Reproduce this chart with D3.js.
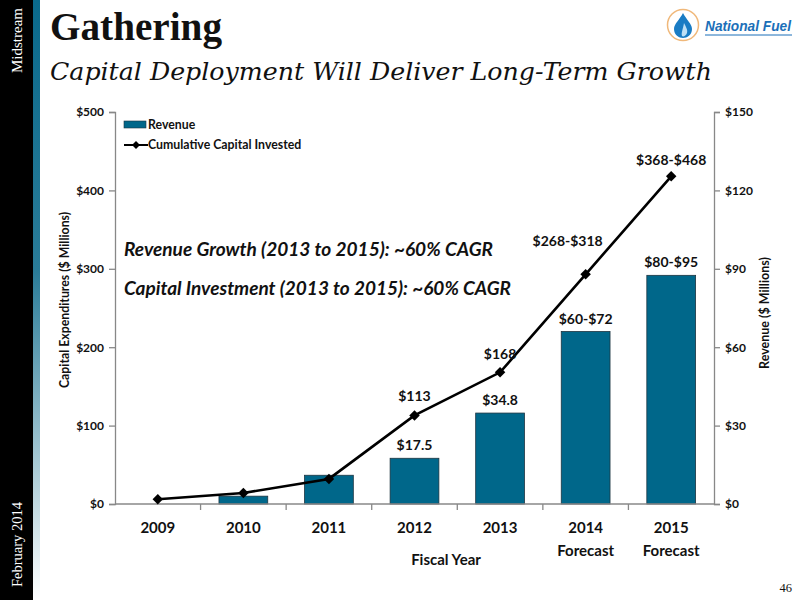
<!DOCTYPE html>
<html>
<head>
<meta charset="utf-8">
<script src="https://cdn.jsdelivr.net/npm/d3@7"></script>
<style>
  body { margin: 0; background: #fff; }
  svg { display: block; }
  .tick-lab { font-family: Lato, 'Open Sans', sans-serif; font-weight: bold; fill: #111; }
</style>
</head>
<body>
<svg id="chart" width="800" height="600"></svg>
<script>
// Chart data
const years = ['2009', '2010', '2011', '2012', '2013', '2014', '2015'];
const yearSub = ['', '', '', '', '', 'Forecast', 'Forecast'];
const revenue = [null, 3, 11, 17.5, 34.8, 66, 87.5];            // $ millions, right axis
const revenueLabels = ['', '', '', '$17.5', '$34.8', '$60-$72', '$80-$95'];
const capital = [6, 14, 32, 113, 168, 293, 418];                 // cumulative $ millions, left axis
const capitalLabels = ['', '', '', '$113', '$168', '$268-$318', '$368-$468'];
const leftTicks = [0, 100, 200, 300, 400, 500];
const rightTicks = [0, 30, 60, 90, 120, 150];

const svg = d3.select('#chart');
const barColor = '#00678a';

// Sidebar
const grad = svg.append('defs').append('linearGradient')
    .attr('id', 'side').attr('x1', 0).attr('y1', 0).attr('x2', 0).attr('y2', 1);
grad.append('stop').attr('offset', '0%').attr('stop-color', '#0a6a8c');
grad.append('stop').attr('offset', '45%').attr('stop-color', '#2a7c98');
grad.append('stop').attr('offset', '100%').attr('stop-color', '#ffffff');
svg.append('rect').attr('x', 0).attr('y', 0).attr('width', 33).attr('height', 600).attr('fill', '#000');
svg.append('rect').attr('x', 33).attr('y', 0).attr('width', 7).attr('height', 600).attr('fill', 'url(#side)');
svg.append('text')
    .attr('transform', 'translate(22,73) rotate(-90)')
    .style('font-family', 'Liberation Serif, serif').style('font-size', '15px')
    .attr('fill', '#fff').text('Midstream');
svg.append('text')
    .attr('transform', 'translate(22,587) rotate(-90)')
    .style('font-family', 'Liberation Serif, serif').style('font-size', '14.5px')
    .attr('fill', '#fff').text('February 2014');

// Titles
svg.append('text')
    .attr('x', 50).attr('y', 40)
    .style('font-family', 'Liberation Serif, serif').style('font-weight', 'bold').style('font-size', '40px')
    .attr('textLength', 172).attr('lengthAdjust', 'spacingAndGlyphs')
    .attr('fill', '#111').text('Gathering');
svg.append('text')
    .attr('x', 50).attr('y', 80)
    .style('font-family', 'DejaVu Serif, serif').style('font-style', 'italic').style('font-size', '25px')
    .attr('textLength', 662).attr('lengthAdjust', 'spacingAndGlyphs')
    .attr('fill', '#111').text('Capital Deployment Will Deliver Long-Term Growth');

// Logo
const logo = svg.append('g').attr('transform', 'translate(683,25)');
logo.append('circle').attr('r', 15.5).attr('fill', '#fff').attr('stroke', '#f0b87a').attr('stroke-width', 1.5);
logo.append('path')
    .attr('d', 'M0,-12 C3,-6 9,-1 9,4 C9,10 4,13 0,13 C-4,13 -9,10 -9,4 C-9,-1 -3,-6 0,-12 Z')
    .attr('fill', '#1a7cc4');
logo.append('path')
    .attr('d', 'M1,-2 C3,2 5,5 4,8 C3,11 0,12 -1,11 C-2,8 0,4 1,-2 Z')
    .attr('fill', '#bfe0f5');
svg.append('text')
    .attr('x', 705).attr('y', 31)
    .style('font-family', 'Liberation Sans, sans-serif').style('font-weight', 'bold').style('font-style', 'italic')
    .style('font-size', '15px').attr('fill', '#1b6fb8')
    .attr('textLength', 86).attr('lengthAdjust', 'spacingAndGlyphs')
    .text('National Fuel');
svg.append('line').attr('x1', 705).attr('x2', 792).attr('y1', 35).attr('y2', 35)
    .attr('stroke', '#1b6fb8').attr('stroke-width', 1);

// Scales
const x = d3.scaleBand().domain(years).range([115, 714]).paddingInner(0).paddingOuter(0);
const yL = d3.scaleLinear().domain([0, 500]).range([504, 112]);
const yR = d3.scaleLinear().domain([0, 150]).range([504, 112]);
const barW = x.bandwidth() * 0.57;

// Axes
const leftAxis = svg.append('g').attr('transform', 'translate(115,0)')
    .call(d3.axisLeft(yL).tickValues(leftTicks).tickSize(6).tickPadding(5).tickFormat(d => '$' + d));
const rightAxis = svg.append('g').attr('transform', 'translate(714,0)')
    .call(d3.axisRight(yR).tickValues(rightTicks).tickSize(6).tickPadding(5).tickFormat(d => '$' + d));
[leftAxis, rightAxis].forEach(a => {
  a.selectAll('.domain').attr('stroke', '#888').attr('stroke-width', 1.3);
  a.selectAll('.tick line').attr('stroke', '#888').attr('stroke-width', 1.3);
  a.selectAll('.tick text').attr('class', 'tick-lab').style('font-size', '12px');
});

// Bars
svg.selectAll('.bar')
  .data(years.map((y, i) => ({ year: y, v: revenue[i], label: revenueLabels[i] })).filter(d => d.v !== null))
  .enter().append('rect')
    .attr('class', 'bar')
    .attr('x', d => x(d.year) + (x.bandwidth() - barW) / 2)
    .attr('y', d => yR(d.v))
    .attr('width', barW)
    .attr('height', d => yR(0) - yR(d.v))
    .attr('fill', barColor)
    .attr('stroke', '#1d3440').attr('stroke-width', 0.8);

// X axis
const xAxis = svg.append('g').attr('transform', 'translate(0,504)');
xAxis.append('line').attr('x1', 115).attr('x2', 714).attr('stroke', '#888').attr('stroke-width', 1.3);
xAxis.selectAll('.xt')
  .data(d3.range(1, years.length))
  .enter().append('line')
    .attr('x1', i => x(years[i])).attr('x2', i => x(years[i]))
    .attr('y1', 0).attr('y2', 6)
    .attr('stroke', '#888').attr('stroke-width', 1.3);
xAxis.selectAll('.xl')
  .data(years)
  .enter().append('text')
    .attr('class', 'tick-lab')
    .attr('x', d => x(d) + x.bandwidth() / 2)
    .attr('y', 29)
    .attr('text-anchor', 'middle')
    .style('font-size', '15px')
    .text(d => d);
xAxis.selectAll('.xs')
  .data(years)
  .enter().append('text')
    .attr('class', 'tick-lab')
    .attr('x', d => x(d) + x.bandwidth() / 2)
    .attr('y', 52)
    .attr('text-anchor', 'middle')
    .style('font-size', '15px')
    .text((d, i) => yearSub[i]);

// Line
const pts = years.map((y, i) => ({ year: y, v: capital[i], label: capitalLabels[i] }));
const line = d3.line().x(d => x(d.year) + x.bandwidth() / 2).y(d => yL(d.v));
svg.append('path').datum(pts)
    .attr('d', line).attr('fill', 'none').attr('stroke', '#000').attr('stroke-width', 2.6);
svg.selectAll('.marker').data(pts).enter().append('path')
    .attr('transform', d => `translate(${x(d.year) + x.bandwidth() / 2},${yL(d.v)})`)
    .attr('d', d3.symbol().type(d3.symbolDiamond2).size(70))
    .attr('fill', '#000');

// Data labels
svg.selectAll('.bar-lab')
  .data(years.map((y, i) => ({ year: y, v: revenue[i], label: revenueLabels[i] })).filter(d => d.label))
  .enter().append('text')
    .attr('class', 'tick-lab')
    .attr('x', d => x(d.year) + x.bandwidth() / 2)
    .attr('y', d => yR(d.v) - 8)
    .attr('text-anchor', 'middle')
    .style('font-size', '14px')
    .text(d => d.label);
const lineLabOffset = { '2012': [0, -14], '2013': [0, -13], '2014': [-18, -28], '2015': [0, -11] };
svg.selectAll('.line-lab')
  .data(pts.filter(d => d.label))
  .enter().append('text')
    .attr('class', 'tick-lab')
    .attr('x', d => x(d.year) + x.bandwidth() / 2 + lineLabOffset[d.year][0])
    .attr('y', d => yL(d.v) + lineLabOffset[d.year][1])
    .attr('text-anchor', 'middle')
    .style('font-size', '14px')
    .text(d => d.label);

// Axis titles
svg.append('text')
    .attr('class', 'tick-lab')
    .attr('transform', 'translate(69,300) rotate(-90)')
    .attr('text-anchor', 'middle')
    .style('font-size', '12.3px')
    .text('Capital Expenditures ($ Millions)');
svg.append('text')
    .attr('class', 'tick-lab')
    .attr('transform', 'translate(769,313) rotate(-90)')
    .attr('text-anchor', 'middle')
    .style('font-size', '12.5px')
    .text('Revenue ($ Millions)');
svg.append('text')
    .attr('class', 'tick-lab')
    .attr('x', 446).attr('y', 565)
    .attr('text-anchor', 'middle')
    .style('font-size', '15px')
    .text('Fiscal Year');

// CAGR notes
const notes = ['Revenue Growth (2013 to 2015): ~60% CAGR', 'Capital Investment (2013 to 2015): ~60% CAGR'];
const noteWidths = [369, 387];
svg.selectAll('.note').data(notes).enter().append('text')
    .attr('class', 'tick-lab')
    .attr('x', 124).attr('y', (d, i) => 256 + i * 39)
    .style('font-size', '18px').style('font-style', 'italic')
    .attr('textLength', (d, i) => noteWidths[i]).attr('lengthAdjust', 'spacingAndGlyphs')
    .text(d => d);

// Legend
const legend = svg.append('g').attr('transform', 'translate(124,125)');
legend.append('rect').attr('x', 0).attr('y', -4).attr('width', 22).attr('height', 7)
    .attr('fill', barColor).attr('stroke', '#1d3440').attr('stroke-width', 0.6);
legend.append('text').attr('class', 'tick-lab').attr('x', 24).attr('y', 4)
    .style('font-size', '12.3px').text('Revenue');
legend.append('line').attr('x1', 0).attr('x2', 24).attr('y1', 20).attr('y2', 20)
    .attr('stroke', '#000').attr('stroke-width', 2);
legend.append('path').attr('transform', 'translate(12,20)')
    .attr('d', d3.symbol().type(d3.symbolDiamond2).size(40)).attr('fill', '#000');
legend.append('text').attr('class', 'tick-lab').attr('x', 24).attr('y', 24)
    .style('font-size', '12.3px').text('Cumulative Capital Invested');

// Page number
svg.append('text')
    .attr('x', 792).attr('y', 592).attr('text-anchor', 'end')
    .style('font-family', 'Liberation Serif, serif').style('font-size', '12.5px')
    .attr('fill', '#111').text('46');
</script>
</body>
</html>
